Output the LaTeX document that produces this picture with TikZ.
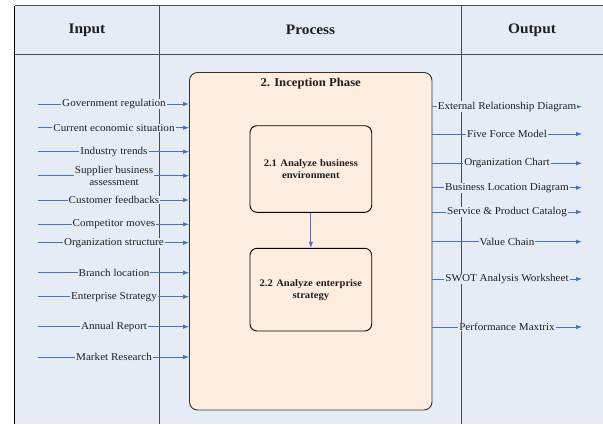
\documentclass[tikz,border=0pt]{standalone}
\usepackage{fontspec}
\setmainfont{Liberation Serif}[FakeStretch=1.06]
\usetikzlibrary{arrows.meta}

\definecolor{tblbg}{HTML}{E6ECF6}
\definecolor{gridline}{HTML}{4D4D4D}
\definecolor{phasebg}{HTML}{FFEDE0}
\definecolor{flow}{HTML}{4472C4}
\definecolor{ink}{HTML}{1F1F1F}

\tikzset{
  header/.style={font=\fontsize{14.5}{17}\selectfont\bfseries, text=ink},
  phase/.style={draw=black!80, line width=0.9pt, fill=phasebg, rounded corners=8pt},
  task/.style={draw=black, line width=0.9pt, fill=phasebg, rounded corners=7pt},
  tasktext/.style={font=\fontsize{10}{12}\selectfont\bfseries, align=center, text width=115pt, text=ink},
  flowarrow/.style={draw=flow, line width=0.8pt, -{Latex[length=6pt,width=4.5pt]}},
  flowlabel/.style={fill=tblbg, inner xsep=1pt, inner ysep=0.5pt, align=center,
    font=\fontsize{10.5}{11.7}\selectfont, text=ink},
  grid/.style={draw=gridline, line width=1pt},
}

\begin{document}
\begin{tikzpicture}[x=1pt, y=-1pt]
  \useasboundingbox (0,0) rectangle (603,424);

  % table background and rules
  \fill[tblbg] (14.5,5.5) rectangle (603,424);
  \draw[grid] (14.5,5.5) -- (603,5.5);
  \draw[grid] (14.5,54) -- (603,54);
  \draw[grid] (159.5,5.5) -- (159.5,424);
  \draw[grid] (461.5,5.5) -- (461.5,424);
  \draw[black, line width=1.1pt] (14.5,5.5) -- (14.5,424);

  % column headers
  \node[header] (hin)  at (87,29.8)  {Input};
  \node[header] (hpro) at (310.5,29.8) {Process};
  \node[header] (hout) at (532,29.8) {Output};

  % inception phase container
  \node[phase, minimum width=242.5pt, minimum height=337.5pt, inner sep=0pt] (phase) at (310.75,241.25) {};
  \node[font=\fontsize{12}{14}\selectfont\bfseries, text=ink] (ptitle) at (310.7,83.3) {2. Inception Phase};

  % tasks
  \node[task, minimum width=121.7pt, minimum height=86.6pt, inner sep=0pt] (t1) at (310.85,169) {};
  \node[tasktext] (t1txt) at (t1.center) {2.1 Analyze business\\environment};
  \node[task, minimum width=121.7pt, minimum height=82.7pt, inner sep=0pt] (t2) at (310.85,289.65) {};
  \node[tasktext] (t2txt) at (t2.center) {2.2 Analyze enterprise\\strategy};
  \draw[flowarrow] (t1.south) -- (t2.north);

  % inputs
  \foreach \y/\txt [count=\i] in {
      104/Government regulation,
      127.7/Current economic situation,
      151.7/Industry trends,
      175.7/Supplier business\\assessment,
      200/Customer feedbacks,
      224.3/Competitor moves,
      242.7/Organization structure,
      272.7/Branch location,
      296.7/Enterprise Strategy,
      326.7/Annual Report,
      357/Market Research} {
    \coordinate (in\i) at (38,\y);
    \draw[flowarrow] (in\i) -- (in\i -| phase.west);
    \node[flowlabel] (inl\i) at (114,\y) {\txt};
  }

  % outputs
  \foreach \y/\txt [count=\i] in {
      106.7/External Relationship Diagram,
      134/Five Force Model,
      163.3/Organization Chart,
      187.7/Business Location Diagram,
      212/Service \& Product Catalog,
      241.7/Value Chain,
      279/SWOT Analysis Worksheet,
      327/Performance Maxtrix} {
    \coordinate (out\i) at (582,\y);
    \draw[flowarrow] (out\i -| phase.east) -- (out\i);
    \node[flowlabel] (outl\i) at (507,\y) {\txt};
  }
\end{tikzpicture}
\end{document}
